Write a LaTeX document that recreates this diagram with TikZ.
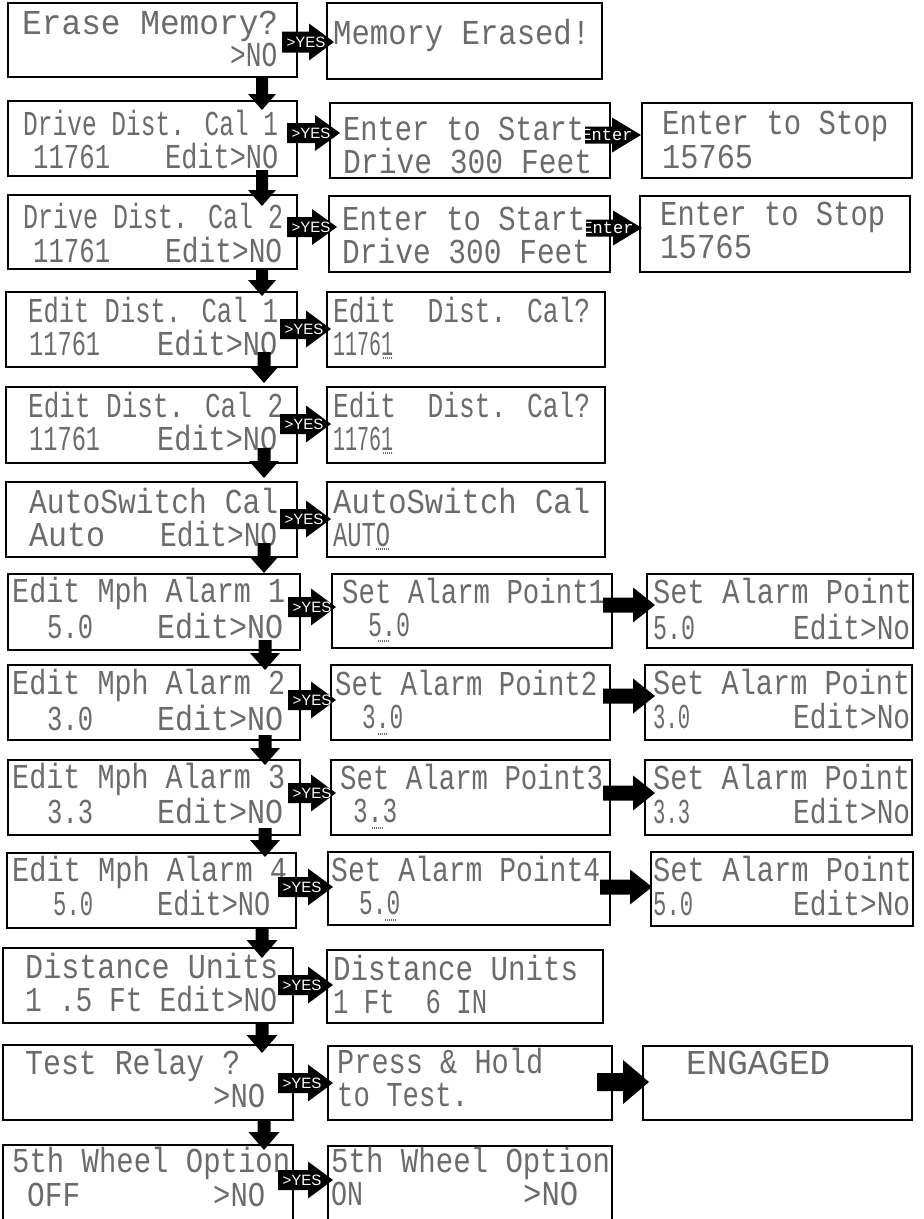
\documentclass[tikz,border=0pt]{standalone}
\usepackage{fontspec}
\usepackage{graphicx}
\usetikzlibrary{fit}
\newfontfamily\lcdfont{Liberation Mono}
\newfontfamily\yesfont{Liberation Sans}
\definecolor{lcdgray}{gray}{0.42}
\tikzset{
  lcdbox/.style={draw=black, line width=2.2pt, inner sep=0pt},
  lcdtxt/.style={inner sep=0pt, text depth=0pt, text=lcdgray, font=\lcdfont\fontsize{35}{35}\selectfont},
  yestxt/.style={inner sep=0pt, text=white, font=\yesfont\fontsize{15}{15}\selectfont},
  entertxt/.style={inner sep=0pt, text=white, font=\lcdfont\fontsize{17}{17}\selectfont},
  cursor/.style={draw=lcdgray, line width=1.6pt, dash pattern=on 1.3pt off 0.7pt},
  blk/.style={fill=black}
}
\newcommand\lcdoff{10}
\newcommand\bx[5]{\node[lcdbox, fit={(#2,#3) (#4,#5)}] (#1) {};}
\newcommand\lcd[5]{%
  \pgfmathsetlengthmacro\lcdw{#3-#2}%
  \node[lcdtxt, anchor=base west] (#1) at (#2,{#4+\lcdoff}) {\resizebox{\lcdw}{\height}{#5}};}
\newcommand\cur[4]{\draw[cursor] (#2,#4) -- (#3,#4);}
% right block arrow: x1, xtip, yc, shaft half, head half, head length
\newcommand\blkR[6]{\fill[blk] ({#1},{#3-#4}) -- ({#2-#6},{#3-#4}) -- ({#2-#6},{#3-#5}) -- ({#2},{#3}) -- ({#2-#6},{#3+#5}) -- ({#2-#6},{#3+#4}) -- ({#1},{#3+#4}) -- cycle;}
% down block arrow: xc, ytop, ytip, shaft half, head half, head length
\newcommand\blkD[6]{\fill[blk] ({#1-#4},{#2}) -- ({#1-#4},{#3-#6}) -- ({#1-#5},{#3-#6}) -- ({#1},{#3}) -- ({#1+#5},{#3-#6}) -- ({#1+#4},{#3-#6}) -- ({#1+#4},{#2}) -- cycle;}
\newcommand\yes[6]{\blkR{#2}{#3}{#4}{#5}{#6}{25}\node[yestxt] (#1) at ({#2+24},{#4}) {>YES};}
\newcommand\ent[3]{\blkR{#2}{#2+56}{#3}{8.5}{17.5}{29}\node[entertxt] (#1) at ({#2+22},{#3}) {Enter};}

\begin{document}
\begin{tikzpicture}[x=1pt,y=-1pt]
\useasboundingbox (0,0) rectangle (924,1219);
\clip (0,0) rectangle (924,1219);
\fill[white] (0,0) rectangle (924,1219);

% ---------- boxes ----------
\bx{L1}{8}{3}{297}{77}
\bx{R1}{327}{3}{602}{79}
\bx{L2}{8}{101}{297}{176}
\bx{M2}{330}{103}{610}{178}
\bx{R2}{642}{103}{912}{178}
\bx{L3}{8}{195}{297}{269}
\bx{M3}{329}{196}{610}{272}
\bx{R3}{640}{196}{910}{272}
\bx{L4}{6}{292}{297}{367}
\bx{R4}{327}{292}{605}{367}
\bx{L5}{6}{387}{297}{463}
\bx{R5}{327}{387}{605}{463}
\bx{L6}{6}{482}{297}{557}
\bx{R6}{327}{482}{605}{557}
\bx{L7}{8}{574}{300}{650}
\bx{M7}{332}{574}{612}{648}
\bx{R7}{647}{574}{913}{648}
\bx{L8}{8}{665}{300}{740}
\bx{M8}{331}{665}{610}{740}
\bx{R8}{645}{665}{912}{740}
\bx{L9}{8}{760}{300}{835}
\bx{M9}{331}{760}{610}{835}
\bx{R9}{645}{760}{912}{835}
\bx{L10}{7}{853}{296}{928}
\bx{M10}{328}{852}{610}{925}
\bx{R10}{651}{852}{913}{926}
\bx{L11}{3}{948}{293}{1023}
\bx{R11}{327}{950}{603}{1023}
\bx{L12}{3}{1045}{293}{1120}
\bx{M12}{328}{1046}{612}{1120}
\bx{R12}{643}{1046}{912}{1120}
\bx{L13}{3}{1145}{293}{1240}
\bx{M13}{328}{1146}{612}{1240}

% ---------- texts ----------
\lcd{t1a}{22}{278}{24}{Erase Memory?}
\lcd{t1b}{230}{277}{56}{>NO}
\lcd{r1a}{333}{590}{34}{Memory Erased!}

\lcd{t2a}{23}{278}{125}{Drive Dist. Cal 1}
\lcd{t2b}{33}{110}{158}{11761}
\lcd{t2c}{165}{278}{158}{Edit>NO}
\lcd{m2a}{343}{584}{130}{Enter to Start}
\lcd{m2b}{343}{592}{163}{Drive 300 Feet}
\lcd{r2a}{662}{888}{124}{Enter to Stop}
\lcd{r2b}{662}{753}{158}{15765}

\lcd{t3a}{23}{283}{218}{Drive Dist. Cal 2}
\lcd{t3b}{33}{110}{252}{11761}
\lcd{t3c}{165}{282}{252}{Edit>NO}
\lcd{m3a}{342}{585}{220}{Enter to Start}
\lcd{m3b}{342}{590}{253}{Drive 300 Feet}
\lcd{r3a}{660}{885}{215}{Enter to Stop}
\lcd{r3b}{660}{752}{248}{15765}

\lcd{t4a}{28}{278}{312}{Edit Dist. Cal 1}
\lcd{t4b}{29}{100}{345}{11761}
\lcd{t4c}{157}{277}{345}{Edit>NO}
\lcd{r4a}{333}{590}{312}{Edit~~Dist. Cal?}
\lcd{r4b}{333}{393}{345}{11761}
\cur{u4}{383}{393}{358}

\lcd{t5a}{28}{283}{407}{Edit Dist. Cal 2}
\lcd{t5b}{29}{100}{440}{11761}
\lcd{t5c}{157}{277}{440}{Edit>NO}
\lcd{r5a}{333}{590}{407}{Edit~~Dist. Cal?}
\lcd{r5b}{333}{393}{440}{11761}
\cur{u5}{383}{393}{453}

\lcd{t6a}{29}{278}{503}{AutoSwitch Cal}
\lcd{t6b}{29}{105}{536}{Auto}
\lcd{t6c}{160}{277}{536}{Edit>NO}
\lcd{r6a}{333}{590}{503}{AutoSwitch Cal}
\lcd{r6b}{333}{390}{536}{AUTO}
\cur{u6}{376}{390}{549}

\lcd{t7a}{12}{285}{592}{Edit Mph Alarm 1}
\lcd{t7b}{47}{93}{628}{5.0}
\lcd{t7c}{157}{283}{628}{Edit>NO}
\lcd{m7a}{342}{605}{593}{Set Alarm Point1}
\lcd{m7b}{368}{410}{626}{5.0}
\cur{u7}{378}{389}{641}
\lcd{r7a}{653}{912}{593}{Set Alarm Point}
\lcd{r7b}{653}{695}{629}{5.0}
\lcd{r7c}{793}{910}{629}{Edit>No}

\lcd{t8a}{12}{285}{684}{Edit Mph Alarm 2}
\lcd{t8b}{47}{93}{720}{3.0}
\lcd{t8c}{157}{283}{720}{Edit>NO}
\lcd{m8a}{335}{597}{685}{Set Alarm Point2}
\lcd{m8b}{362}{403}{718}{3.0}
\cur{u8}{378}{388}{734}
\lcd{r8a}{653}{910}{684}{Set Alarm Point}
\lcd{r8b}{653}{690}{718}{3.0}
\lcd{r8c}{793}{910}{718}{Edit>No}

\lcd{t9a}{12}{285}{778}{Edit Mph Alarm 3}
\lcd{t9b}{47}{93}{813}{3.3}
\lcd{t9c}{157}{283}{813}{Edit>NO}
\lcd{m9a}{340}{603}{779}{Set Alarm Point3}
\lcd{m9b}{353}{397}{812}{3.3}
\cur{u9}{372}{383}{828}
\lcd{r9a}{653}{910}{779}{Set Alarm Point}
\lcd{r9b}{653}{690}{813}{3.3}
\lcd{r9c}{793}{910}{813}{Edit>No}

\lcd{t10a}{12}{287}{871}{Edit Mph Alarm 4}
\lcd{t10b}{53}{93}{905}{5.0}
\lcd{t10c}{157}{270}{905}{Edit>NO}
\lcd{m10a}{331}{600}{871}{Set Alarm Point4}
\lcd{m10b}{359}{400}{904}{5.0}
\cur{u10}{385}{396}{920}
\lcd{r10a}{653}{912}{871}{Set Alarm Point}
\lcd{r10b}{653}{693}{905}{5.0}
\lcd{r10c}{793}{910}{905}{Edit>No}

\lcd{t11a}{25}{278}{968}{Distance Units}
\lcd{t11b}{25}{277}{1001}{1 .5 Ft Edit>NO}
\lcd{r11a}{333}{578}{970}{Distance Units}
\lcd{r11b}{333}{487}{1003}{1 Ft~~6 IN}

\lcd{t12a}{25}{240}{1064}{Test Relay ?}
\lcd{t12b}{213}{265}{1097}{>NO}
\lcd{m12a}{337}{543}{1063}{Press \& Hold}
\lcd{m12b}{337}{468}{1096}{to Test.}
\lcd{r12a}{686}{830}{1064}{ENGAGED}

\lcd{t13a}{12}{290}{1162}{5th Wheel Option}
\lcd{t13b}{27}{80}{1196}{OFF}
\lcd{t13c}{213}{265}{1196}{>NO}
\lcd{m13a}{331}{610}{1162}{5th Wheel Option}
\lcd{m13b}{331}{363}{1195}{ON}
\lcd{m13c}{523}{578}{1195}{>NO}

% ---------- down arrows ----------
\blkD{262}{77}{110}{6}{14}{16}
\blkD{262}{170}{206}{6}{14}{16}
\blkD{262}{268}{296}{6}{14}{16}
\blkD{264}{352}{383}{6.5}{15}{17}
\blkD{264}{448}{478}{6.5}{15}{17}
\blkD{264}{543}{573}{6.5}{15}{17}
\blkD{265}{640}{670}{6.5}{15}{17}
\blkD{265}{735}{765}{6.5}{15}{17}
\blkD{265}{828}{857}{6.5}{15}{17}
\blkD{262}{928}{958}{6.5}{15.5}{18}
\blkD{262}{1023}{1053}{6.5}{15.5}{18}
\blkD{264}{1120}{1150}{6.5}{15.5}{18}

% ---------- YES arrows ----------
\yes{y1}{282}{334}{42}{10.5}{18.5}
\yes{y2}{287}{340}{133}{10}{18}
\yes{y3}{287}{337}{227}{10}{18}
\yes{y4}{280}{331}{329}{10}{18.5}
\yes{y5}{280}{331}{424}{10}{18.5}
\yes{y6}{280}{331}{519}{10}{18.5}
\yes{y7}{288}{336}{607}{10}{18.5}
\yes{y8}{288}{336}{700}{10}{18.5}
\yes{y9}{288}{336}{793}{10}{18.5}
\yes{y10}{278}{333}{887}{10}{18.5}
\yes{y11}{278}{333}{985}{10}{18.5}
\yes{y12}{278}{333}{1083}{10}{18.5}
\yes{y13}{278}{333}{1180}{10}{18.5}

% ---------- Enter arrows ----------
\ent{e2}{585}{135}
\ent{e3}{586}{228}

% ---------- plain black arrows ----------
\blkR{603}{655}{605}{7.5}{17.5}{22}
\blkR{603}{655}{696}{7.5}{17.5}{22}
\blkR{603}{655}{793}{7.5}{17.5}{22}
\blkR{600}{652}{887}{7.5}{17.5}{22}
\blkR{597}{649}{1082}{9}{22}{26}
\end{tikzpicture}
\end{document}
